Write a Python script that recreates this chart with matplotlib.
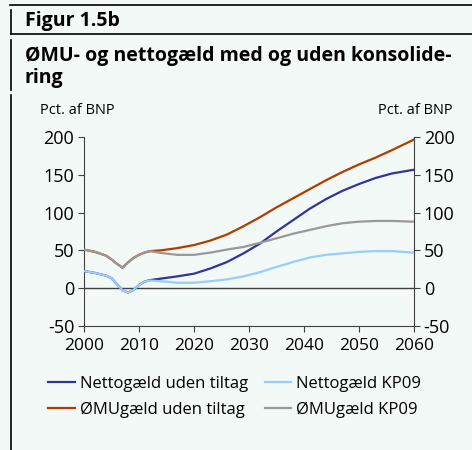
import matplotlib.pyplot as plt
from matplotlib.lines import Line2D

plt.rcParams['font.family'] = ['Open Sans', 'DejaVu Sans']
plt.rcParams['axes.unicode_minus'] = False

# aar aflaest fra figuren
aar = [2000, 2002, 2004, 2005, 2006, 2007, 2008, 2009, 2010, 2011, 2012,
       2014, 2017, 2020, 2023, 2026, 2029, 2032, 2035, 2038, 2041, 2044,
       2047, 2050, 2053, 2056, 2060]

netto_uden = [22.5, 20, 16.5, 13, 5, -3, -6, -2.5, 4, 8.5, 10.5,
              12.5, 15.5, 19, 26, 34.5, 46, 59, 75, 90, 105, 118,
              129, 138, 146, 152, 157]
netto_kp09 = [22.5, 20, 16.5, 13, 5, -3, -6, -2.5, 4, 8.5, 10,
              9, 7, 7, 9, 11.5, 15.5, 21, 28, 34.5, 40.5, 44,
              46, 48, 49, 49, 47]
omu_uden = [51, 48, 43, 38, 32, 27, 34, 40, 44, 47, 49,
            50, 53, 57, 63, 71, 82, 94, 107, 119, 131, 143,
            154, 164, 173, 183, 197]
omu_kp09 = [51, 48, 43, 38, 32, 27, 34, 40, 44, 47, 49,
            46.5, 44, 44, 47, 51, 54.5, 60, 66, 72, 77, 82,
            86, 88, 89, 89, 88]

x_ticks = [2000, 2010, 2020, 2030, 2040, 2050, 2060]
y_ticks = [-50, 0, 50, 100, 150, 200]

bg = '#f2f9f6'
c_netto = '#333399'
c_netto_kp = '#99ccff'
c_omu = '#b23c00'
c_omu_kp = '#999999'

fig = plt.figure(figsize=(4.72, 4.5), dpi=100, facecolor=bg)
ax = fig.add_axes([84 / 472, 1 - 325.7 / 450, 330 / 472, 188.4 / 450])
ax.set_facecolor(bg)

ax.axhline(0, color='#404040', linewidth=1, zorder=1)
ax.plot(aar, netto_uden, color=c_netto, linewidth=1.6, zorder=2)
ax.plot(aar, omu_uden, color=c_omu, linewidth=1.6, zorder=2)
ax.plot(aar, omu_kp09, color=c_omu_kp, linewidth=1.6, zorder=3)
ax.plot(aar, netto_kp09, color=c_netto_kp, linewidth=1.6, zorder=3)

ax.set_xlim(2000, 2060)
ax.set_ylim(-50, 200)
ax.set_xticks(x_ticks)
ax.set_yticks(y_ticks)
ax.spines['top'].set_visible(False)
for s in ['left', 'right', 'bottom']:
    ax.spines[s].set_color('#404040')
ax.tick_params(axis='y', which='both', direction='out', length=4, color='#404040',
               labelsize=13, left=True, right=True, labelleft=True, labelright=True, pad=3)
ax.tick_params(axis='x', direction='out', length=4, color='#404040', labelsize=12.5, pad=5)

# rammer og overskrifter
fig.add_artist(Line2D([10 / 472, 1], [1 - 5 / 450] * 2, color='black', linewidth=1.2))
fig.add_artist(Line2D([11 / 472] * 2, [1 - 10 / 450, 1 - 34 / 450], color='black', linewidth=1.2))
fig.add_artist(Line2D([11 / 472, 1], [1 - 34 / 450] * 2, color='black', linewidth=1.2))
fig.add_artist(Line2D([11 / 472] * 2, [1 - 40 / 450, 1 - 90 / 450], color='black', linewidth=1.2))
fig.add_artist(Line2D([11 / 472] * 2, [1 - 95 / 450, 0], color='black', linewidth=1.2))

fig.text(25 / 472, 1 - 21 / 450, 'Figur 1.5b', fontsize=14, fontweight='bold', va='center')
fig.text(25 / 472, 1 - 56 / 450, 'ØMU- og nettogæld med og uden konsolide-',
         fontsize=14, fontweight='bold', va='center')
fig.text(25 / 472, 1 - 78 / 450, 'ring', fontsize=14, fontweight='bold', va='center')
fig.text(40 / 472, 1 - 111 / 450, 'Pct. af BNP', fontsize=10.5, va='center')
fig.text(453 / 472, 1 - 111 / 450, 'Pct. af BNP', fontsize=10.5, va='center', ha='right')

handles = [Line2D([], [], color=c_netto, linewidth=1.6),
           Line2D([], [], color=c_omu, linewidth=1.6),
           Line2D([], [], color=c_netto_kp, linewidth=1.6),
           Line2D([], [], color=c_omu_kp, linewidth=1.6)]
labels = ['Nettogæld uden tiltag', 'ØMUgæld uden tiltag', 'Nettogæld KP09', 'ØMUgæld KP09']
fig.legend(handles, labels, ncol=2, frameon=False, fontsize=12,
           loc='upper left', bbox_to_anchor=(33 / 472, 1 - 361 / 450),
           handlelength=1.6, handletextpad=0.3, columnspacing=1.0, labelspacing=0.55)

fig.savefig('out.png', dpi=100, facecolor=bg)
